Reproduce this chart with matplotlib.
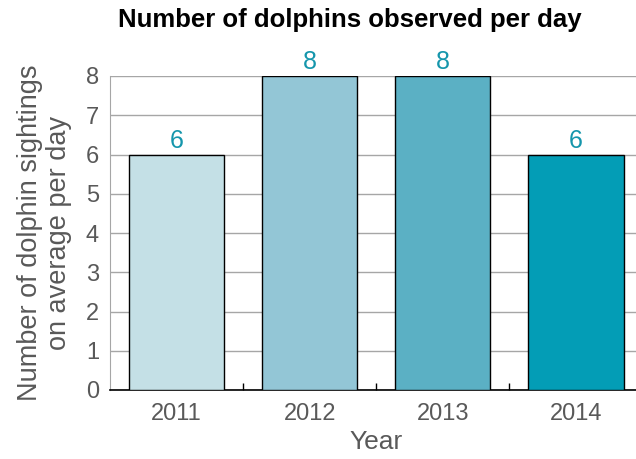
import matplotlib.pyplot as plt

years = ["2011", "2012", "2013", "2014"]
sightings = [6, 8, 8, 6]
bar_colors = ["#C4E0E6", "#93C6D6", "#5BB0C4", "#039DB6"]

plt.rcParams["font.family"] = ["Liberation Sans", "DejaVu Sans"]
GREY = "#595959"

fig = plt.figure(figsize=(6.36, 4.59), dpi=100)
ax = fig.add_axes([110 / 636, 1 - 390 / 459, 532.5 / 636, 314 / 459])

x = range(len(years))
bars = ax.bar(x, sightings, width=0.715, color=bar_colors, edgecolor="black",
              linewidth=1.0, zorder=3)
for b, v in zip(bars, sightings):
    ax.text(b.get_x() + b.get_width() / 2, v + 0.05, str(v), ha="center",
            va="bottom", fontsize=18, color="#1596AC")

ax.set_xlim(-0.5, 3.5)
ax.set_ylim(0, 8)
ax.set_yticks(range(0, 9))
ax.yaxis.grid(True, color="#A6A6A6", linewidth=1.0, zorder=0)
ax.set_axisbelow(True)

ax.set_xticks(list(x))
ax.set_xticklabels(years)
ax.set_xticks([0.5, 1.5, 2.5], minor=True)
ax.tick_params(axis="x", which="major", length=0, labelsize=17, labelcolor=GREY, pad=9)
ax.tick_params(axis="x", which="minor", direction="in", length=5, width=1, color="black")
ax.tick_params(axis="y", length=0, labelsize=17, labelcolor=GREY, pad=8)

for side in ["top", "right"]:
    ax.spines[side].set_visible(False)
ax.spines["left"].set_color("#A6A6A6")
ax.spines["bottom"].set_color("black")
ax.spines["bottom"].set_linewidth(1.2)

ax.set_xlabel("Year", fontsize=19, color=GREY, labelpad=4)
ax.set_ylabel("Number of dolphin sightings\non average per day", fontsize=19.5,
              color=GREY, labelpad=10, linespacing=1.15)
fig.text(350 / 636, 1 - 20 / 459, "Number of dolphins observed per day",
         ha="center", va="center", fontsize=18.5, fontweight="bold", color="black")

fig.savefig("out.png", dpi=100)
